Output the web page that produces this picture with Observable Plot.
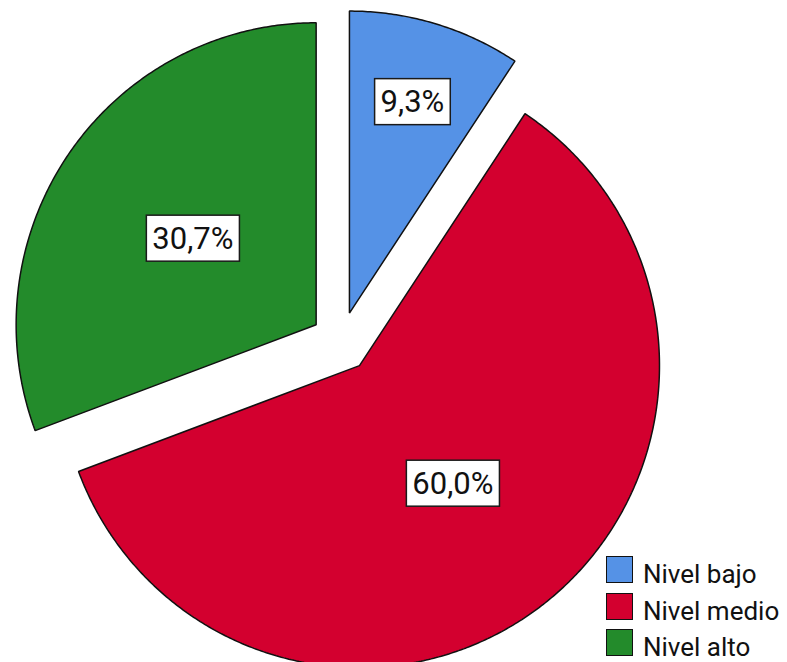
<!DOCTYPE html>
<html>
<head>
<meta charset="utf-8">
<script src="https://cdn.jsdelivr.net/npm/d3@7"></script>
<script src="https://cdn.jsdelivr.net/npm/@observablehq/plot@0.6"></script>
<style>
  html, body { margin: 0; padding: 0; background: #fff; }
  #wrap { position: relative; width: 787px; height: 662px; overflow: hidden; }
  #legend { position: absolute; left: 606px; top: 556px; font-family: Roboto, "Liberation Sans", sans-serif; font-size: 26px; color: #111; }
  .row { position: relative; height: 36.5px; width: 181px; }
  .sw { position: absolute; left: 0; top: 0; width: 27px; height: 27px; box-sizing: border-box; border: 1.5px solid #111; }
  .lb { position: absolute; left: 37px; top: 3px; line-height: 30px; white-space: nowrap; }
</style>
</head>
<body>
<div id="wrap"></div>
<script>
// ---- data ----
const categories = ["Nivel bajo", "Nivel medio", "Nivel alto"];
const percents = [9.3, 60.0, 30.7];
const labels = ["9,3%", "60,0%", "30,7%"];
const colors = ["#5592e6", "#d3002f", "#238b2b"];

// ---- geometry derived from data ----
const explode = 0.1;
const arcs = d3.pie().sort(null).value(d => d)(percents);
const slicePts = [];
const labelPts = [];
arcs.forEach((a, i) => {
  const mid = (a.startAngle + a.endAngle) / 2;
  const ox = explode * Math.sin(mid), oy = explode * Math.cos(mid);
  const key = categories[i];
  slicePts.push({key, x: ox, y: oy});
  const n = Math.max(2, Math.ceil((a.endAngle - a.startAngle) / (Math.PI / 360)));
  for (let k = 0; k <= n; k++) {
    const t = a.startAngle + (a.endAngle - a.startAngle) * k / n;
    slicePts.push({key, x: ox + Math.sin(t), y: oy + Math.cos(t)});
  }
  const half = (a.endAngle - a.startAngle) / 2;
  const d = Math.max(0.5, 0.21 / Math.sin(half));
  labelPts.push({key, text: labels[i], x: ox + d * Math.sin(mid), y: oy + d * Math.cos(mid)});
});

const chart = Plot.plot({
  width: 787,
  height: 662,
  margin: 0,
  x: {domain: [-1, 1], range: [40.3, 640.3], axis: null},
  y: {domain: [-1, 1], range: [643.5, 39.5], axis: null},
  color: {domain: categories, range: colors},
  marks: [
    Plot.line(slicePts, {x: "x", y: "y", z: "key", fill: "key", stroke: "#111", strokeWidth: 1.5, curve: "linear-closed", strokeLinejoin: "miter"}),
    Plot.text(labelPts, {x: "x", y: "y", text: "text", fontSize: 31, fontFamily: "Roboto, 'Liberation Sans', sans-serif", fill: "#111"})
  ]
});
document.getElementById("wrap").appendChild(chart);

// white label boxes behind the texts
const svg = d3.select(chart.tagName === "svg" ? chart : chart.querySelector("svg"));
svg.selectAll('g[aria-label="text"] text').each(function() {
  const bb = this.getBBox();
  const cy = bb.y + bb.height / 2;
  const tr = this.getAttribute("transform");
  const r = document.createElementNS("http://www.w3.org/2000/svg", "rect");
  r.setAttribute("x", bb.x - 6);
  r.setAttribute("width", bb.width + 12);
  r.setAttribute("y", cy - 23);
  r.setAttribute("height", 46);
  r.setAttribute("fill", "#fff");
  r.setAttribute("stroke", "#1a1a1a");
  r.setAttribute("stroke-width", 1.5);
  if (tr) r.setAttribute("transform", tr);
  this.parentNode.insertBefore(r, this);
});

// legend
const legend = document.createElement("div");
legend.id = "legend";
categories.forEach((c, i) => {
  const row = document.createElement("div");
  row.className = "row";
  const sw = document.createElement("div");
  sw.className = "sw";
  sw.style.background = colors[i];
  const lb = document.createElement("span");
  lb.className = "lb";
  lb.textContent = c;
  row.appendChild(sw);
  row.appendChild(lb);
  legend.appendChild(row);
});
document.getElementById("wrap").appendChild(legend);
</script>
</body>
</html>
